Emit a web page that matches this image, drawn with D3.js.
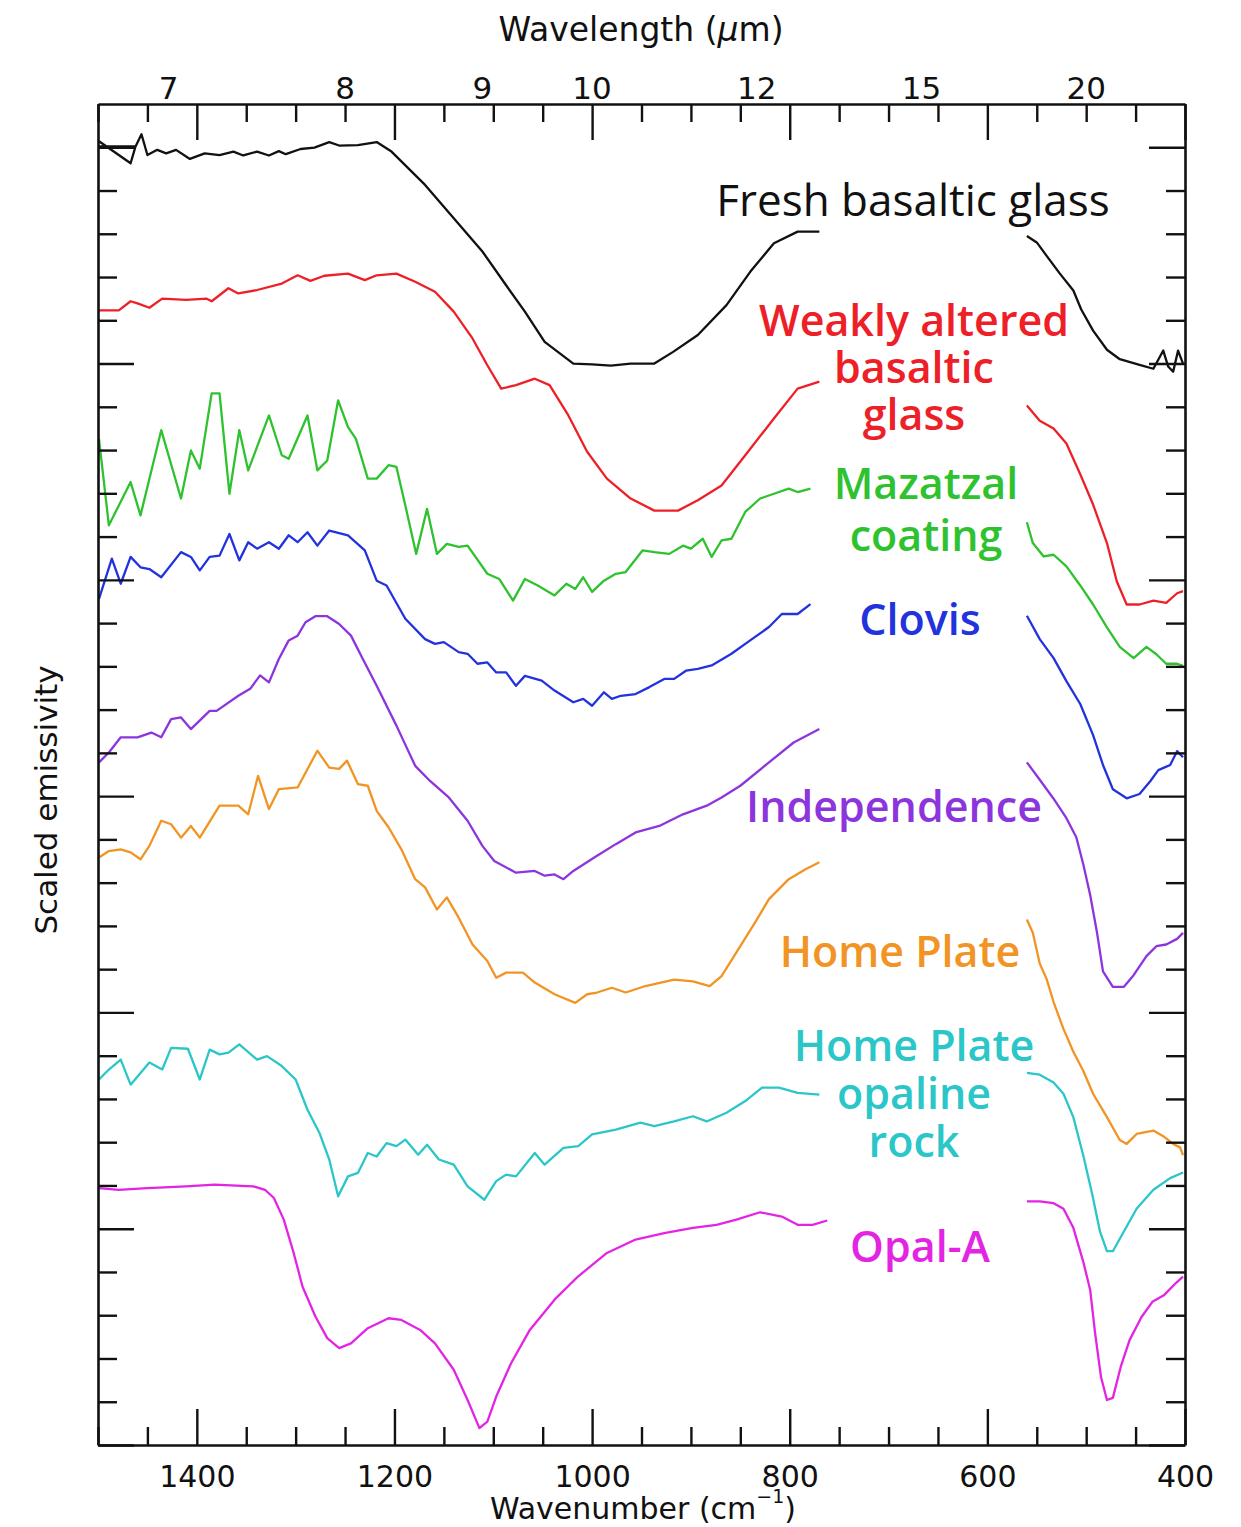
<!DOCTYPE html>
<html>
<head>
<meta charset="utf-8">
<script src="https://cdn.jsdelivr.net/npm/d3@7"></script>
<style>
  html, body { margin: 0; padding: 0; background: #ffffff; }
  svg { display: block; }
</style>
</head>
<body>
<svg id="chart" width="1241" height="1527"></svg>
<script>
// ---------------- DATA ----------------
const wavenumberTicks = d3.range(400, 1501, 50);
const wavenumberLabels = [1400, 1200, 1000, 800, 600, 400];
const wavelengthLabels = [7, 8, 9, 10, 12, 15, 20];
const emissivityTicks = d3.range(0, 31).map(i => i / 10);

const seriesNames = ["Fresh basaltic glass", "Weakly altered basaltic glass", "Mazatzal coating",
  "Clovis", "Independence", "Home Plate", "Home Plate opaline rock", "Opal-A"];
const labelLines = [["Fresh basaltic glass"], ["Weakly altered", "basaltic", "glass"], ["Mazatzal", "coating"],
  ["Clovis"], ["Independence"], ["Home Plate"], ["Home Plate", "opaline", "rock"], ["Opal-A"]];
const seriesColors = ["#111111", "#ee2027", "#2fc22f", "#2233dd", "#8c35dc", "#f29424", "#2ac6c8", "#e325e3"];

// [wavenumber (cm-1), scaled emissivity]; null = gap in the spectrum
const freshBasalticGlass = [
  [1499,3.014],[1467,2.963],[1462,3.002],[1499,3.002],[1462,3.002],[1456,3.030],[1450,2.982],[1440,2.994],
  [1431,2.986],[1421,2.994],[1407,2.973],[1392,2.986],[1377,2.982],[1363,2.990],[1353,2.981],[1339,2.990],
  [1327,2.981],[1317,2.991],[1310,2.984],[1295,2.996],[1281,2.999],[1266,3.012],[1256,3.004],[1237,3.005],
  [1218,3.012],[1203,2.990],[1169,2.913],[1140,2.836],[1111,2.759],[1087,2.681],[1068,2.620],[1048,2.550],
  [1019,2.500],[1000,2.498],[981,2.495],[961,2.500],[937,2.500],[918,2.527],[893,2.566],[864,2.635],
  [840,2.712],[816,2.778],[792,2.805],[770,2.805],
  null,
  [560,2.795],[550,2.780],[540,2.749],[527,2.709],[513,2.669],[505,2.625],[493,2.576],[479,2.532],
  [466,2.510],[446,2.497],[432,2.488],[422,2.530],[417,2.493],[412,2.481],[407,2.530],[402,2.500]
];
const weaklyAlteredGlass = [
  [1499,2.623],[1479,2.623],[1467,2.644],[1460,2.639],[1448,2.629],[1435,2.650],[1411,2.647],[1390,2.650],
  [1385,2.644],[1368,2.674],[1358,2.662],[1339,2.670],[1314,2.685],[1298,2.704],[1285,2.691],[1271,2.703],
  [1247,2.708],[1230,2.693],[1218,2.704],[1198,2.708],[1179,2.689],[1159,2.666],[1140,2.620],[1121,2.558],
  [1106,2.496],[1092,2.442],[1077,2.450],[1058,2.465],[1043,2.450],[1024,2.380],[1005,2.296],[985,2.234],
  [961,2.188],[937,2.160],[913,2.160],[893,2.184],[869,2.218],[845,2.288],[816,2.373],[792,2.442],[770,2.458],
  null,
  [560,2.403],[547,2.368],[533,2.350],[520,2.315],[506,2.244],[493,2.174],[479,2.085],[469,1.996],
  [459,1.943],[446,1.943],[432,1.952],[419,1.947],[408,1.969],[402,1.974]
];
const mazatzalCoating = [
  [1499,2.326],[1489,2.126],[1467,2.226],[1457,2.149],[1436,2.346],[1416,2.188],[1406,2.299],[1397,2.257],
  [1385,2.431],[1377,2.431],[1367,2.199],[1357,2.346],[1348,2.253],[1327,2.380],[1314,2.288],[1307,2.280],
  [1288,2.380],[1278,2.253],[1268,2.276],[1257,2.415],[1247,2.353],[1239,2.326],[1227,2.234],[1218,2.234],
  [1206,2.265],[1198,2.261],[1189,2.172],[1178,2.060],[1167,2.164],[1157,2.060],[1147,2.083],[1135,2.076],
  [1126,2.079],[1106,2.014],[1094,2.002],[1080,1.952],[1068,2.002],[1055,1.987],[1038,1.964],[1026,1.991],
  [1017,1.979],[1009,2.006],[1000,1.972],[988,1.998],[976,2.014],[966,2.018],[949,2.068],[937,2.064],
  [922,2.060],[908,2.079],[900,2.072],[888,2.095],[879,2.053],[869,2.091],[859,2.095],[845,2.157],
  [830,2.188],[816,2.199],[801,2.211],[792,2.203],[779,2.211],
  null,
  [560,2.133],[554,2.085],[543,2.054],[533,2.058],[520,2.031],[506,1.987],[493,1.943],[479,1.890],
  [466,1.845],[452,1.819],[439,1.845],[429,1.828],[419,1.806],[408,1.806],[402,1.801]
];
const clovis = [
  [1499,1.956],[1486,2.049],[1477,1.991],[1467,2.053],[1457,2.029],[1448,2.025],[1436,2.006],[1416,2.064],
  [1406,2.053],[1397,2.022],[1387,2.053],[1377,2.056],[1367,2.106],[1357,2.045],[1348,2.087],[1339,2.072],
  [1327,2.087],[1317,2.072],[1307,2.103],[1298,2.087],[1288,2.110],[1278,2.079],[1266,2.114],[1247,2.103],
  [1230,2.068],[1218,1.998],[1208,1.987],[1189,1.910],[1169,1.863],[1159,1.852],[1150,1.856],[1135,1.833],
  [1126,1.829],[1116,1.806],[1106,1.809],[1097,1.786],[1087,1.786],[1077,1.755],[1068,1.778],[1051,1.767],
  [1038,1.744],[1019,1.717],[1009,1.725],[1000,1.709],[988,1.740],[980,1.725],[971,1.732],[956,1.736],
  [942,1.752],[927,1.771],[917,1.771],[905,1.790],[893,1.794],[879,1.802],[859,1.829],[840,1.860],
  [821,1.891],[808,1.921],[792,1.921],[779,1.944],
  null,
  [560,1.917],[547,1.863],[533,1.819],[520,1.766],[506,1.713],[493,1.641],[483,1.572],[473,1.516],
  [459,1.495],[446,1.505],[435,1.535],[427,1.560],[420,1.567],[415,1.572],[408,1.604],[402,1.590]
];
const independence = [
  [1499,1.578],[1489,1.601],[1477,1.636],[1460,1.636],[1446,1.647],[1436,1.636],[1426,1.678],[1416,1.682],
  [1406,1.655],[1387,1.697],[1380,1.697],[1358,1.732],[1346,1.748],[1336,1.779],[1327,1.763],[1317,1.817],
  [1307,1.860],[1298,1.871],[1290,1.902],[1280,1.916],[1268,1.916],[1256,1.898],[1244,1.871],[1232,1.817],
  [1218,1.755],[1198,1.663],[1179,1.570],[1164,1.535],[1145,1.497],[1126,1.443],[1111,1.385],[1099,1.350],
  [1077,1.323],[1058,1.327],[1048,1.316],[1038,1.319],[1029,1.308],[1019,1.327],[995,1.362],[976,1.389],
  [956,1.416],[932,1.431],[908,1.458],[884,1.478],[869,1.497],[850,1.524],[821,1.578],[796,1.624],[770,1.655],
  null,
  [560,1.578],[547,1.538],[533,1.494],[520,1.449],[510,1.405],[503,1.343],[496,1.272],[489,1.184],
  [483,1.095],[473,1.059],[462,1.059],[452,1.086],[439,1.130],[429,1.153],[419,1.157],[408,1.170],[402,1.184]
];
const homePlate = [
  [1499,1.358],[1489,1.373],[1477,1.377],[1467,1.370],[1457,1.354],[1448,1.385],[1436,1.443],[1426,1.435],
  [1416,1.404],[1406,1.431],[1397,1.404],[1377,1.478],[1358,1.478],[1348,1.458],[1338,1.547],[1327,1.470],
  [1317,1.516],[1298,1.520],[1278,1.605],[1266,1.566],[1256,1.563],[1248,1.582],[1237,1.528],[1227,1.524],
  [1218,1.466],[1206,1.428],[1193,1.377],[1179,1.308],[1169,1.289],[1157,1.238],[1147,1.266],[1135,1.219],
  [1121,1.157],[1106,1.119],[1097,1.080],[1087,1.092],[1070,1.092],[1058,1.069],[1038,1.042],[1017,1.022],
  [1005,1.042],[995,1.046],[980,1.057],[966,1.046],[946,1.061],[917,1.076],[898,1.072],[881,1.061],
  [869,1.084],[850,1.153],[835,1.208],[821,1.262],[801,1.308],[784,1.331],[770,1.347],
  null,
  [560,1.215],[554,1.184],[547,1.113],[540,1.077],[533,1.024],[523,0.962],[513,0.909],[503,0.865],
  [493,0.812],[479,0.758],[466,0.705],[459,0.696],[449,0.719],[432,0.727],[422,0.714],[412,0.696],
  [405,0.688],[402,0.670]
];
const homePlateOpaline = [
  [1499,0.845],[1489,0.868],[1477,0.891],[1467,0.833],[1448,0.884],[1435,0.868],[1426,0.918],[1409,0.916],
  [1397,0.845],[1387,0.914],[1377,0.903],[1368,0.907],[1357,0.926],[1339,0.891],[1329,0.899],[1314,0.876],
  [1300,0.845],[1288,0.775],[1276,0.722],[1266,0.660],[1257,0.575],[1247,0.621],[1237,0.629],[1227,0.675],
  [1218,0.667],[1208,0.698],[1198,0.691],[1189,0.706],[1176,0.671],[1167,0.694],[1155,0.660],[1140,0.648],
  [1126,0.598],[1109,0.567],[1097,0.610],[1087,0.625],[1077,0.621],[1058,0.675],[1048,0.648],[1029,0.687],
  [1014,0.691],[1000,0.718],[976,0.729],[951,0.745],[937,0.737],[917,0.748],[898,0.760],[884,0.748],
  [864,0.768],[845,0.795],[828,0.826],[811,0.826],[792,0.814],[770,0.810],
  null,
  [560,0.860],[547,0.856],[533,0.838],[523,0.812],[513,0.758],[503,0.670],[494,0.581],[486,0.493],
  [479,0.448],[473,0.448],[462,0.493],[449,0.546],[432,0.590],[415,0.617],[402,0.630]
];
const opalA = [
  [1499,0.594],[1479,0.590],[1450,0.594],[1411,0.598],[1382,0.602],[1343,0.598],[1331,0.590],[1322,0.571],
  [1312,0.521],[1302,0.444],[1293,0.366],[1280,0.297],[1268,0.247],[1256,0.224],[1244,0.235],[1227,0.270],
  [1206,0.293],[1193,0.289],[1174,0.266],[1159,0.235],[1140,0.174],[1126,0.104],[1114,0.039],[1106,0.054],
  [1097,0.112],[1082,0.189],[1063,0.266],[1038,0.336],[1014,0.390],[985,0.444],[956,0.475],[927,0.490],
  [898,0.502],[874,0.509],[854,0.521],[830,0.538],[808,0.528],[792,0.509],[777,0.509],[762,0.519],
  null,
  [560,0.563],[547,0.563],[533,0.559],[523,0.546],[513,0.502],[503,0.424],[496,0.359],[491,0.259],
  [485,0.157],[479,0.104],[473,0.109],[465,0.181],[456,0.243],[444,0.296],[433,0.331],[421,0.347],
  [409,0.375],[402,0.389]
];
const allSeries = [freshBasalticGlass, weaklyAlteredGlass, mazatzalCoating, clovis,
  independence, homePlate, homePlateOpaline, opalA];

// ---------------- DRAWING ----------------
const svg = d3.select("#chart");
const plotLeft = 98, plotRight = 1185, plotTop = 104, plotBottom = 1445;

const x = d3.scaleLinear().domain([1500, 400]).range([plotLeft, plotRight]);
const y = d3.scaleLinear().domain([0, 3.1]).range([plotBottom, plotTop]);

const axisFont = "'DejaVu Sans', sans-serif";
const labelFont = "'Open Sans', sans-serif";
const majorLen = 36, minorLen = 18;

// curves
const line = d3.line()
  .defined(d => d != null)
  .x(d => x(d[0]))
  .y(d => y(d[1]));

svg.append("g").selectAll("path")
  .data(allSeries)
  .join("path")
  .attr("d", d => line(d))
  .attr("fill", "none")
  .attr("stroke", (d, i) => seriesColors[i])
  .attr("stroke-width", 2.3)
  .attr("stroke-linejoin", "round");

// bottom axis
const gB = svg.append("g").attr("transform", `translate(0,${plotBottom})`)
  .call(d3.axisBottom(x).tickValues(wavenumberTicks).tickSize(0).tickSizeOuter(0)
    .tickFormat(d => wavenumberLabels.includes(d) ? d : ""));
gB.selectAll(".tick line").attr("y2", d => d % 200 === 0 ? -majorLen : -minorLen);
gB.selectAll(".tick text").attr("y", 42).attr("dy", 0)
  .style("font-family", axisFont).style("font-size", "30px").attr("fill", "#111");

// top axis
const gT = svg.append("g").attr("transform", `translate(0,${plotTop})`)
  .call(d3.axisTop(x).tickValues(wavenumberTicks).tickSize(0).tickSizeOuter(0).tickFormat(""));
gT.selectAll(".tick line").attr("y2", d => d % 200 === 0 ? majorLen : minorLen);
gT.selectAll(".wl")
  .data(wavelengthLabels)
  .join("text")
  .attr("class", "wl")
  .attr("x", d => x(10000 / d))
  .attr("y", -5)
  .attr("text-anchor", "middle")
  .style("font-family", axisFont).style("font-size", "31px").attr("fill", "#111")
  .text(d => d);

// left & right axes
const gL = svg.append("g").attr("transform", `translate(${plotLeft},0)`)
  .call(d3.axisLeft(y).tickValues(emissivityTicks).tickSize(0).tickSizeOuter(0).tickFormat(""));
gL.selectAll(".tick line").attr("x2", (d, i) => i % 5 === 0 ? majorLen : minorLen + 1);
const gR = svg.append("g").attr("transform", `translate(${plotRight},0)`)
  .call(d3.axisRight(y).tickValues(emissivityTicks).tickSize(0).tickSizeOuter(0).tickFormat(""));
gR.selectAll(".tick line").attr("x2", (d, i) => i % 5 === 0 ? -majorLen : -(minorLen + 1));

[gB, gT, gL, gR].forEach(g => {
  g.select(".domain").attr("stroke", "#111").attr("stroke-width", 2.6);
  g.selectAll(".tick line").attr("stroke", "#111").attr("stroke-width", 2.4);
});

// axis titles
const tTop = svg.append("text")
  .attr("x", 641).attr("y", 41).attr("text-anchor", "middle")
  .style("font-family", axisFont).style("font-size", "33px").attr("fill", "#111");
tTop.append("tspan").text("Wavelength (");
tTop.append("tspan").style("font-style", "italic").text("μ");
tTop.append("tspan").text("m)");

const tBot = svg.append("text")
  .attr("x", 643).attr("y", 1519).attr("text-anchor", "middle")
  .style("font-family", axisFont).style("font-size", "30px").attr("fill", "#111");
tBot.append("tspan").text("Wavenumber (cm");
tBot.append("tspan").attr("dy", -16).style("font-size", "19px").text("−1");
tBot.append("tspan").attr("dy", 16).text(")");

svg.append("text")
  .attr("transform", "translate(57,800) rotate(-90)")
  .attr("text-anchor", "middle")
  .style("font-family", axisFont).style("font-size", "31px").attr("fill", "#111")
  .text("Scaled emissivity");

// series labels
const labelPos = [
  { cx: 913, y0: 216, lh: 0, size: 44, weight: 500 },
  { cx: 914, y0: 336, lh: 47, size: 43, weight: 600 },
  { cx: 926, y0: 499, lh: 52, size: 43, weight: 600 },
  { cx: 920, y0: 635, lh: 0, size: 43, weight: 600 },
  { cx: 894, y0: 822, lh: 0, size: 43, weight: 600 },
  { cx: 900, y0: 967, lh: 0, size: 43, weight: 600 },
  { cx: 914, y0: 1061, lh: 48, size: 43, weight: 600 },
  { cx: 920, y0: 1262, lh: 0, size: 43, weight: 600 }
];
labelLines.forEach((lines, i) => {
  const p = labelPos[i];
  svg.append("g").selectAll("text")
    .data(lines)
    .join("text")
    .attr("x", p.cx)
    .attr("y", (d, k) => p.y0 + k * p.lh)
    .attr("text-anchor", "middle")
    .style("font-family", labelFont)
    .style("font-size", p.size + "px")
    .style("font-weight", p.weight)
    .attr("fill", seriesColors[i])
    .text(d => d);
});
</script>
</body>
</html>
